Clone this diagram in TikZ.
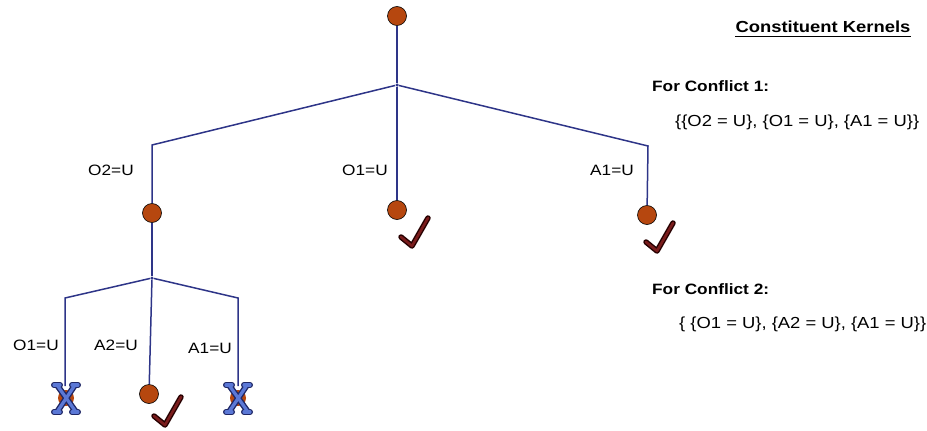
\documentclass[tikz,border=0pt]{standalone}
\usepackage{fontspec}
\setmainfont{Liberation Sans}[FakeStretch=1.15]
\definecolor{navy}{HTML}{2E3588}
\definecolor{nodebrown}{HTML}{B6470F}
\definecolor{checkred}{HTML}{7A1C1C}
\definecolor{xblue}{HTML}{5B78D6}
\definecolor{xnavy}{HTML}{1F2766}
\begin{document}
\begin{tikzpicture}[x=1pt,y=-1pt,
  edge/.style={draw=navy, line width=1.5pt},
  state/.style={circle, fill=nodebrown, draw=black, line width=0.6pt, minimum size=19pt, inner sep=0pt},
  junc/.style={circle, fill=navy, inner sep=0pt, minimum size=3.5pt},
  lab/.style={font=\fontsize{15}{18}\selectfont, inner sep=0pt},
  hd/.style={font=\bfseries\fontsize{15}{18}\selectfont, inner sep=0pt, anchor=west},
  settxt/.style={font=\fontsize{16}{19}\selectfont, inner sep=0pt, anchor=west},
  checkmark/.pic={
    \draw[line width=5.5pt, draw=black!85!red, line cap=round, line join=round] (0,0) -- (11,9) -- (27,-19);
    \draw[line width=2.6pt, draw=checkred, line cap=round, line join=round] (0,0) -- (11,9) -- (27,-19);
  },
  xmark/.pic={
    \fill[nodebrown] (0,0) circle (8);
    \foreach \w/\c in {6pt/xnavy, 3.2pt/xblue}{
      \draw[line width=\w, draw=\c, line cap=round] (-9,-13) -- (10,14);
      \draw[line width=\w, draw=\c, line cap=round] (9,-13) -- (-9,14);
      \draw[line width=\w, draw=\c, line cap=round] (-12,-13) -- (-6,-13) (6,-13) -- (12,-13);
      \draw[line width=\w, draw=\c, line cap=round] (-12,14) -- (-6,14) (6,14) -- (12,14);
    }
  }]
\useasboundingbox (0,0) rectangle (927,431);

% tree
\node[state] (r) at (397,16) {};
\node[junc] (j0) at (397,85) {};
\coordinate (cl) at (152,145);
\coordinate (cr) at (648,146);
\node[state] (n1) at (152,213) {};
\node[state] (n2) at (397,210) {};
\node[state] (n3) at (647,215) {};
\draw[edge] (r) -- (j0);
\draw[edge] (j0) -- (cl) -- (n1);
\draw[edge] (j0) -- (n2);
\draw[edge] (j0) -- (cr) -- (n3);

\node[junc] (j1) at (152,278) {};
\coordinate (cll) at (65,298);
\coordinate (clr) at (238,298);
\node[state] (n4) at (149,394) {};
\coordinate (x1) at (66,398);
\coordinate (x2) at (238,398);
\coordinate (x1t) at (65,386);
\coordinate (x2t) at (238,386);
\draw[edge] (n1) -- (j1);
\draw[edge] (j1) -- (cll) -- (x1t);
\draw[edge] (j1) -- (n4);
\draw[edge] (j1) -- (clr) -- (x2t);

\pic at (x1) {xmark};
\pic at (x2) {xmark};
\pic at (401,237) {checkmark};
\pic at (646,242) {checkmark};
\pic at (154,416) {checkmark};

% edge labels
\node[lab] (l1) at (111,170) {O2=U};
\node[lab] (l2) at (365,170) {O1=U};
\node[lab] (l3) at (612,170) {A1=U};
\node[lab] (l4) at (36,345) {O1=U};
\node[lab] (l5) at (116,345) {A2=U};
\node[lab] (l6) at (210,348) {A1=U};

% right text
\node[font=\bfseries\fontsize{16}{19}\selectfont, inner sep=0pt] (title) at (823,27) {Constituent Kernels};
\draw[line width=0.9pt] ([yshift=-3pt]title.south west) -- ([yshift=-3pt]title.south east);
\node[hd] (c1) at (652,86) {For Conflict 1:};
\node[settxt] (s1) at (675,122) {\{\{O2 = U\}, \{O1 = U\}, \{A1 = U\}\}};
\node[hd] (c2) at (652,289) {For Conflict 2:};
\node[settxt] (s2) at (679,324) {\{ \{O1 = U\}, \{A2 = U\}, \{A1 = U\}\}};
\end{tikzpicture}
\end{document}
